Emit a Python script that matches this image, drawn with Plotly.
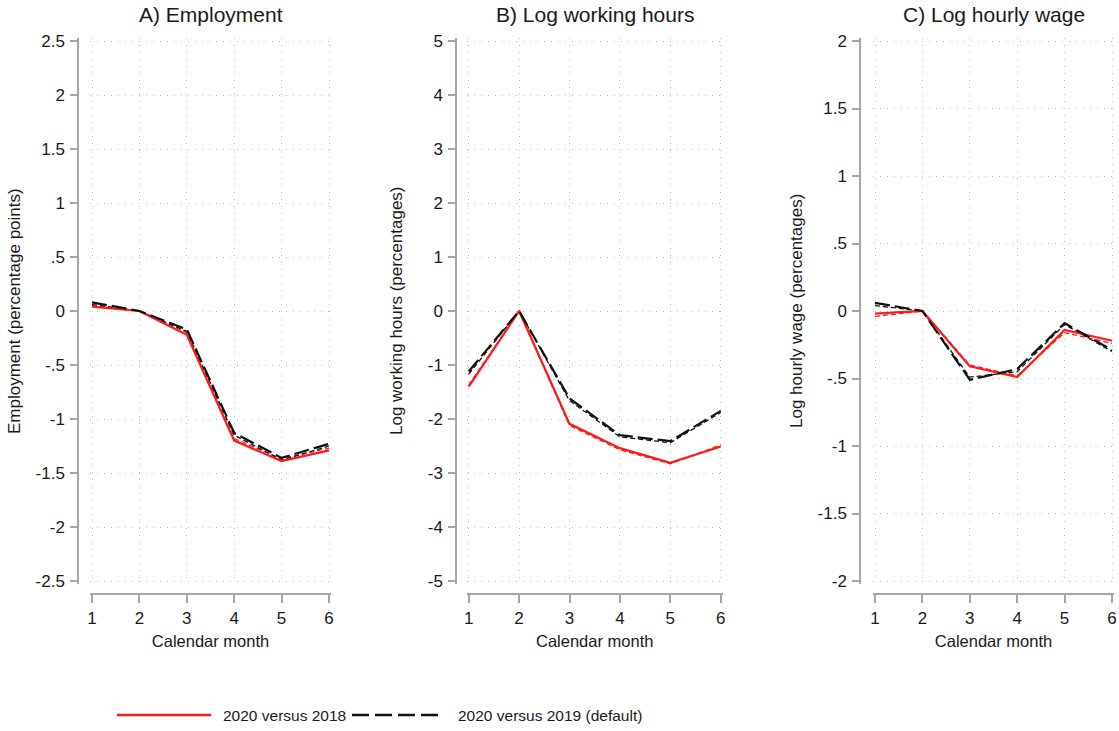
import plotly.graph_objects as go

# ---------------- data ----------------
months = [1, 2, 3, 4, 5, 6]

# Panel A: Employment (percentage points)
emp_2018 = [0.04, 0.0, -0.22, -1.20, -1.39, -1.29]
emp_2018_alt = [0.05, 0.0, -0.20, -1.18, -1.37, -1.27]
emp_2019 = [0.08, 0.0, -0.17, -1.13, -1.36, -1.23]
emp_2019_alt = [0.06, 0.0, -0.19, -1.15, -1.38, -1.25]

# Panel B: Log working hours (percentages)
hrs_2018 = [-1.40, 0.0, -2.09, -2.54, -2.81, -2.51]
hrs_2018_alt = [-1.37, 0.0, -2.12, -2.57, -2.83, -2.48]
hrs_2019 = [-1.12, 0.0, -1.62, -2.30, -2.41, -1.85]
hrs_2019_alt = [-1.17, 0.0, -1.66, -2.33, -2.44, -1.88]

# Panel C: Log hourly wage (percentages)
wage_2018 = [-0.02, 0.0, -0.41, -0.49, -0.14, -0.22]
wage_2018_alt = [-0.04, 0.0, -0.40, -0.48, -0.16, -0.24]
wage_2019 = [0.06, 0.0, -0.51, -0.43, -0.09, -0.29]
wage_2019_alt = [0.04, 0.0, -0.49, -0.45, -0.10, -0.30]

titles = ["A) Employment", "B) Log working hours", "C) Log hourly wage"]
ytitles = ["Employment (percentage points)", "Log working hours (percentages)",
           "Log hourly wage (percentages)"]
yticks_A = [2.5, 2, 1.5, 1, 0.5, 0, -0.5, -1, -1.5, -2, -2.5]
ylabels_A = ["2.5", "2", "1.5", "1", ".5", "0", "-.5", "-1", "-1.5", "-2", "-2.5"]
yticks_B = [5, 4, 3, 2, 1, 0, -1, -2, -3, -4, -5]
ylabels_B = ["5", "4", "3", "2", "1", "0", "-1", "-2", "-3", "-4", "-5"]
yticks_C = [2, 1.5, 1, 0.5, 0, -0.5, -1, -1.5, -2]
ylabels_C = ["2", "1.5", "1", ".5", "0", "-.5", "-1", "-1.5", "-2"]
xlabel = "Calendar month"
legend_labels = ["2020 versus 2018", "2020 versus 2019 (default)"]

# ---------------- layout geometry (pixels) ----------------
W, H = 1119, 731
panels = [
    dict(x1=92.0, x6=329.0, yax=78.0, ttl=63, ymin=-2.5, ymax=2.5, tv=yticks_A, tt=ylabels_A,
         s18=emp_2018, s18a=emp_2018_alt, s19=emp_2019, s19a=emp_2019_alt),
    dict(x1=468.7, x6=720.7, yax=456.0, ttl=59, ymin=-5, ymax=5, tv=yticks_B, tt=ylabels_B,
         s18=hrs_2018, s18a=hrs_2018_alt, s19=hrs_2019, s19a=hrs_2019_alt),
    dict(x1=875.0, x6=1112.0, yax=860.0, ttl=63, ymin=-2, ymax=2, tv=yticks_C, tt=ylabels_C,
         s18=wage_2018, s18a=wage_2018_alt, s19=wage_2019, s19a=wage_2019_alt),
]
YTOP, YBOT = 41.0, 581.0
XAXIS_Y = 594.0
XPAD = 0.04
YPADF = 0.006

FONT = "Liberation Sans, Arial, sans-serif"
TXT = "#1a1a1a"
RED = "#ff1a1a"
BLACK = "#111111"
AXCOL = "#a6a6a6"
GRIDCOL = "#bdbdbd"

fig = go.Figure()
layout = dict(
    width=W, height=H, margin=dict(l=0, r=0, t=0, b=0, pad=0, autoexpand=False),
    paper_bgcolor="white", plot_bgcolor="white", showlegend=False,
    font=dict(family=FONT, color=TXT),
)
annotations = []
shapes = []

for i, p in enumerate(panels):
    n = "" if i == 0 else str(i + 1)
    xa, ya = "x" + n, "y" + n
    ppu_x = (p["x6"] - p["x1"]) / 5.0
    left = p["x1"] - XPAD * ppu_x
    right = p["x6"] + XPAD * ppu_x
    yr = p["ymax"] - p["ymin"]
    ppu_y = (YBOT - YTOP) / yr
    ypad = YPADF * yr
    top = YTOP - ypad * ppu_y
    bot = YBOT + ypad * ppu_y

    # secondary (thin) lines
    fig.add_trace(go.Scatter(x=months, y=p["s18a"], mode="lines", xaxis=xa, yaxis=ya,
                             line=dict(color=RED, width=1.3, dash="5px,3px")))
    fig.add_trace(go.Scatter(x=months, y=p["s19a"], mode="lines", xaxis=xa, yaxis=ya,
                             line=dict(color=BLACK, width=1.3, dash="5px,3px")))
    # main lines
    fig.add_trace(go.Scatter(x=months, y=p["s18"], mode="lines", xaxis=xa, yaxis=ya,
                             line=dict(color=RED, width=2.2)))
    fig.add_trace(go.Scatter(x=months, y=p["s19"], mode="lines", xaxis=xa, yaxis=ya,
                             line=dict(color=BLACK, width=2.2, dash="15px,5px")))

    layout["xaxis" + n] = dict(
        domain=[left / W, right / W], range=[1 - XPAD, 6 + XPAD],
        anchor="free", position=(H - XAXIS_Y) / H, automargin=False,
        tickvals=months, ticktext=[str(m) for m in months],
        ticks="outside", ticklen=8, tickwidth=1.5, tickcolor=AXCOL,
        ticklabelstandoff=1,
        showline=True, linecolor=AXCOL, linewidth=1.5,
        showgrid=True, gridcolor=GRIDCOL, griddash="1px,6px", gridwidth=1.2,
        zeroline=False, tickfont=dict(size=17, family=FONT, color=TXT),
        title=dict(text=xlabel, font=dict(size=16.5, family=FONT, color=TXT), standoff=7),
        fixedrange=True,
    )
    layout["yaxis" + n] = dict(
        domain=[(H - bot) / H, (H - top) / H], range=[p["ymin"] - ypad, p["ymax"] + ypad],
        anchor="free", position=p["yax"] / W, automargin=False,
        tickvals=p["tv"], ticktext=p["tt"],
        ticks="outside", ticklen=7, tickwidth=1.5, tickcolor=AXCOL,
        ticklabelstandoff=2,
        showline=True, linecolor=AXCOL, linewidth=1.5,
        showgrid=True, gridcolor=GRIDCOL, griddash="1px,6px", gridwidth=1.2,
        zeroline=False, tickfont=dict(size=17, family=FONT, color=TXT),
        fixedrange=True,
    )
    # panel title
    annotations.append(dict(
        text=titles[i], x=(p["x1"] + p["x6"]) / 2 / W, y=(H - 15) / H,
        xref="paper", yref="paper", xanchor="center", yanchor="middle",
        showarrow=False, font=dict(size=21, family=FONT, color=TXT)))
    # y-axis title
    annotations.append(dict(
        text=ytitles[i], x=(p["yax"] - p["ttl"]) / W, y=(H - 311) / H,
        xref="paper", yref="paper", xanchor="center", yanchor="middle",
        textangle=-90, showarrow=False, font=dict(size=17, family=FONT, color=TXT)))

# ---------------- legend (drawn manually) ----------------
LEG_Y = (H - 715) / H
shapes.append(dict(type="line", xref="paper", yref="paper",
                   x0=117 / W, x1=211 / W, y0=LEG_Y, y1=LEG_Y,
                   line=dict(color=RED, width=2.5)))
shapes.append(dict(type="line", xref="paper", yref="paper",
                   x0=352 / W, x1=440 / W, y0=LEG_Y, y1=LEG_Y,
                   line=dict(color=BLACK, width=2.5, dash="17px,6px")))
annotations.append(dict(text=legend_labels[0], x=221 / W, y=LEG_Y, xref="paper", yref="paper",
                        xanchor="left", yanchor="middle", showarrow=False,
                        font=dict(size=15.5, family=FONT, color=TXT)))
annotations.append(dict(text=legend_labels[1], x=456 / W, y=LEG_Y, xref="paper", yref="paper",
                        xanchor="left", yanchor="middle", showarrow=False,
                        font=dict(size=15.5, family=FONT, color=TXT)))

layout["annotations"] = annotations
layout["shapes"] = shapes
fig.update_layout(**layout)
fig.write_html("out.html", config={"displayModeBar": False},
               post_script="document.body.style.margin='0';document.body.style.overflow='hidden';")
